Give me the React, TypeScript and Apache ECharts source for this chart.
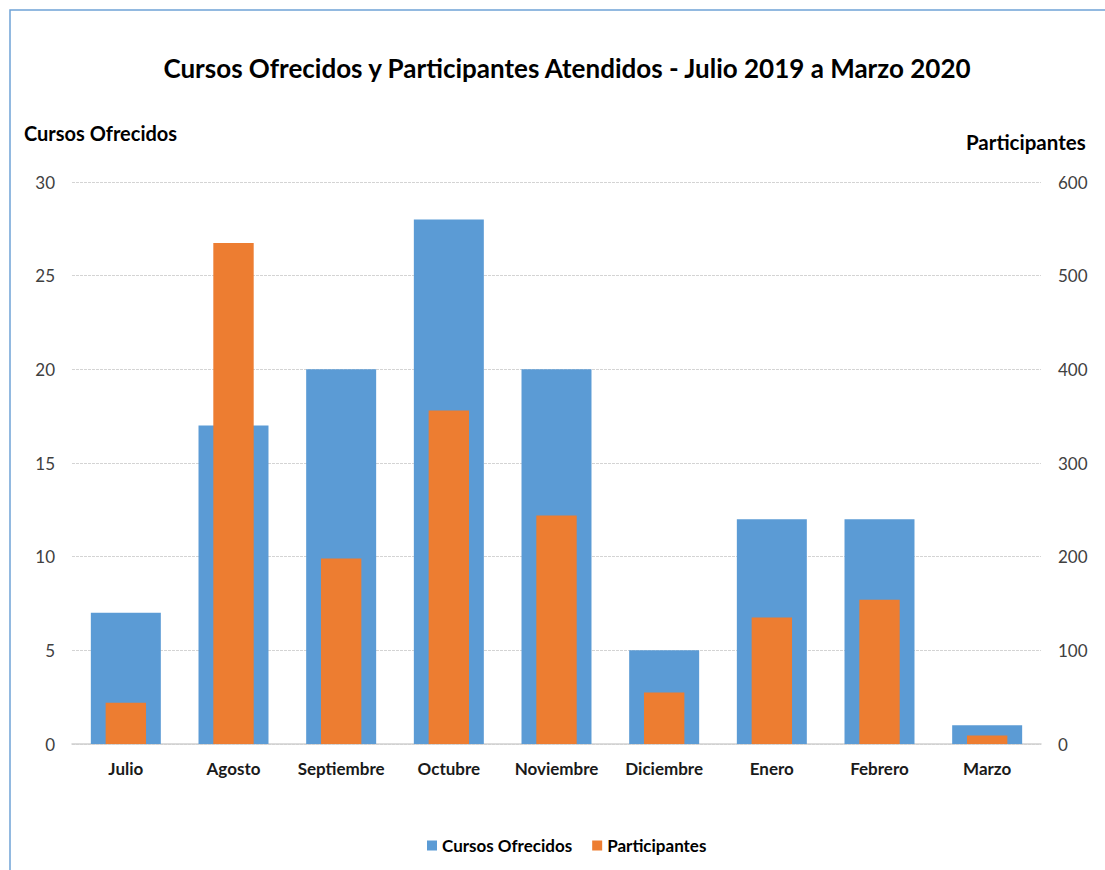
import React, { useEffect, useRef } from "react";
import * as echarts from "echarts";

const months = ["Julio", "Agosto", "Septiembre", "Octubre", "Noviembre", "Diciembre", "Enero", "Febrero", "Marzo"];
const cursos = [7, 17, 20, 28, 20, 5, 12, 12, 1];
const participantes = [44, 535, 198, 356, 244, 55, 135, 154, 9];
const leftTicks = { min: 0, max: 30, interval: 5 };
const rightTicks = { min: 0, max: 600, interval: 100 };

const FONT = "Lato, 'Open Sans', sans-serif";

export default function App() {
  const ref = useRef<HTMLDivElement>(null);
  useEffect(() => {
    if (!ref.current) return;
    const chart = echarts.init(ref.current, undefined, { renderer: "svg" });
    chart.setOption({
      animation: false,
      backgroundColor: "#ffffff",
      textStyle: { fontFamily: FONT },
      title: {
        text: "Cursos Ofrecidos y Participantes Atendidos - Julio 2019 a Marzo 2020",
        left: 562,
        top: 50,
        textAlign: "center",
        textStyle: { fontFamily: FONT, fontWeight: "bold", fontSize: 26, color: "#000000" },
      },
      legend: {
        bottom: 11,
        left: 422,
        itemWidth: 10,
        itemHeight: 10,
        itemGap: 20,
        icon: "rect",
        textStyle: { fontFamily: FONT, fontWeight: "bold", fontSize: 17, color: "#000000" },
        data: ["Cursos Ofrecidos", "Participantes"],
      },
      graphic: [
        {
          type: "rect",
          shape: { x: 10, y: 10, width: 1200, height: 1000 },
          style: { fill: "none", stroke: "#6fa3d6", lineWidth: 1.5 },
          silent: true,
        },
        {
          type: "text",
          left: 24,
          top: 123,
          style: { text: "Cursos Ofrecidos", fontFamily: FONT, fontWeight: "bold", fontSize: 20, fill: "#000000" },
        },
        {
          type: "text",
          left: 966,
          top: 131,
          style: { text: "Participantes", fontFamily: FONT, fontWeight: "bold", fontSize: 20.5, fill: "#000000" },
        },
      ],
      grid: { left: 72, right: 64, top: 182, bottom: 126, containLabel: false },
      xAxis: [
        {
          type: "category",
          data: months,
          axisTick: { show: false },
          axisLine: { lineStyle: { color: "#d0d0d0", width: 1.5 } },
          axisLabel: { interval: 0, margin: 16, fontFamily: FONT, fontWeight: "bold", fontSize: 17, color: "#1a1a1a" },
        },
        {
          type: "category",
          data: months,
          show: false,
        },
      ],
      yAxis: [
        {
          type: "value",
          ...leftTicks,
          axisLine: { show: false },
          axisTick: { show: false },
          axisLabel: { margin: 17, fontFamily: FONT, fontSize: 17, color: "#404040" },
          splitLine: { lineStyle: { color: "#d4d4d4", type: [3, 1], width: 1 } },
        },
        {
          type: "value",
          ...rightTicks,
          axisLine: { show: false },
          axisTick: { show: false },
          axisLabel: { margin: 17, fontFamily: FONT, fontSize: 17, color: "#404040" },
          splitLine: { show: false },
        },
      ],
      series: [
        {
          name: "Cursos Ofrecidos",
          type: "bar",
          xAxisIndex: 0,
          yAxisIndex: 0,
          data: cursos,
          barWidth: "65%",
          itemStyle: { color: "#5b9bd5" },
        },
        {
          name: "Participantes",
          type: "bar",
          xAxisIndex: 1,
          yAxisIndex: 1,
          data: participantes,
          barWidth: "37.5%",
          itemStyle: { color: "#ed7d31" },
        },
      ],
    });
    return () => chart.dispose();
  }, []);
  return (
    <div
      ref={ref}
      style={{ position: "fixed", left: 0, top: 0, width: 1105, height: 870 }}
    />
  );
}
